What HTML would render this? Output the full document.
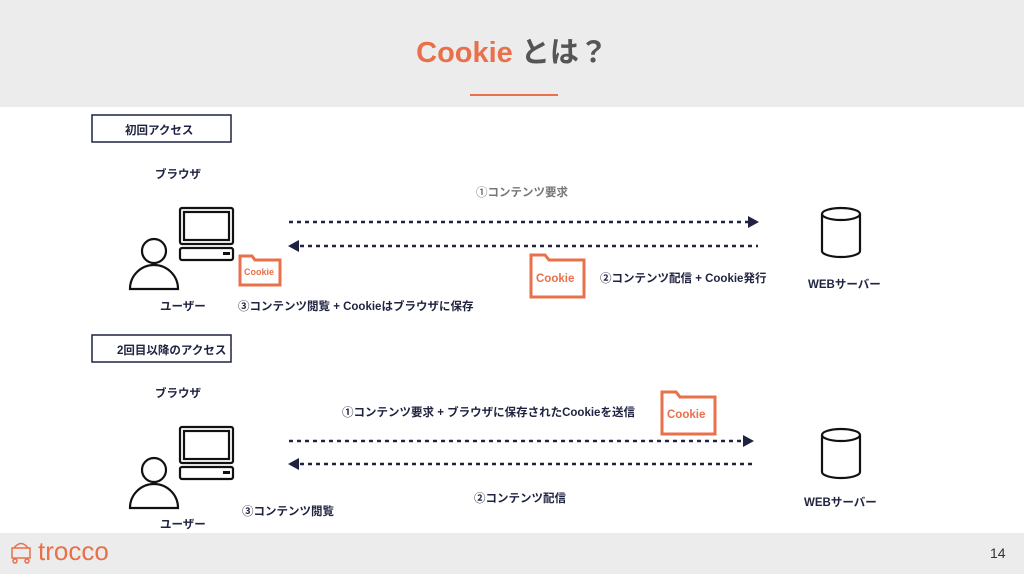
<!DOCTYPE html>
<html><head><meta charset="utf-8"><style>
body{margin:0;width:1024px;height:574px;position:relative;background:#fff;font-family:"Liberation Sans","Noto Sans CJK JP",sans-serif;overflow:hidden;color:#1f2340}
.a{position:absolute;white-space:nowrap;font-weight:bold;font-size:11.5px}
</style></head><body>
<div style="position:absolute;left:0;top:0;width:1024px;height:107px;background:#ececec"></div>
<div class="a" style="left:0;width:1024px;text-align:center;top:29px;font-size:29px;color:#555"><span style="color:#e8704a">Cookie</span> とは？</div>
<div style="position:absolute;left:470px;top:94px;width:88px;height:2px;background:#e8704a"></div>
<div style="position:absolute;left:0;top:533px;width:1024px;height:41px;background:#ececec"></div>
<div class="a" style="left:38px;top:536px;font-size:26px;font-weight:normal;color:#e8704a">trocco</div>
<div class="a" style="left:990px;top:545px;font-size:14px;font-weight:normal;color:#333">14</div>

<svg style="position:absolute;left:0;top:0" width="1024" height="574">
<g fill="none" stroke="#1f2340" stroke-width="1.5">
<rect x="92" y="115" width="139" height="27"/>
<rect x="92" y="335" width="139" height="27"/>
</g>
<g fill="none" stroke="#e8704a" stroke-width="1.5"><rect x="12" y="548" width="18" height="10"/><path d="M14 548 q7-9 14 0"/><circle cx="15" cy="561" r="2"/><circle cx="27" cy="561" r="2"/></g>
<g fill="none" stroke="#111" stroke-width="2.2">
<rect x="180" y="208" width="53" height="36" rx="2"/><rect x="184" y="212" width="45" height="28"/><rect x="180" y="248" width="53" height="12" rx="2"/>
<rect x="223" y="252" width="7" height="3" fill="#111" stroke="none"/>
<circle cx="154" cy="251" r="12"/><path d="M130 289 a24 24 0 0 1 48 0 z"/>
<g transform="translate(0,219)"><rect x="180" y="208" width="53" height="36" rx="2"/><rect x="184" y="212" width="45" height="28"/><rect x="180" y="248" width="53" height="12" rx="2"/><rect x="223" y="252" width="7" height="3" fill="#111" stroke="none"/><circle cx="154" cy="251" r="12"/><path d="M130 289 a24 24 0 0 1 48 0 z"/></g>
<path d="M822 214 v37 a19 6 0 0 0 38 0 v-37"/><ellipse cx="841" cy="214" rx="19" ry="6"/>
<g transform="translate(0,221)"><path d="M822 214 v37 a19 6 0 0 0 38 0 v-37"/><ellipse cx="841" cy="214" rx="19" ry="6"/></g>
</g>
<g stroke="#1f2340" stroke-width="2.5" stroke-dasharray="4,4">
<line x1="289" y1="222" x2="748" y2="222"/><line x1="300" y1="246" x2="758" y2="246"/>
<line x1="289" y1="441" x2="743" y2="441"/><line x1="300" y1="464" x2="752" y2="464"/>
</g>
<g fill="#1f2340"><path d="M748 216 l11 6 -11 6z"/><path d="M299 240 l-11 6 11 6z"/><path d="M743 435 l11 6 -11 6z"/><path d="M299 458 l-11 6 11 6z"/></g>
<g fill="none" stroke="#e8704a" stroke-width="3">
<path d="M240 256 h12 l3 4 h25 v25 h-40z"/>
<path d="M531 255 h14 l4 5 h35 v37 h-53z"/>
<path d="M662 392 h14 l4 5 h35 v37 h-53z"/>
</g>
<g fill="#e8704a" font-weight="bold" font-family="Liberation Sans,sans-serif">
<text x="244" y="275" font-size="9">Cookie</text>
<text x="536" y="282" font-size="11.5">Cookie</text>
<text x="667" y="418" font-size="11.5">Cookie</text>
</g>
</svg>
<div class="a" style="left:125px;top:122px">初回アクセス</div>
<div class="a" style="left:117px;top:342px">2回目以降のアクセス</div>
<div class="a" style="left:155px;top:166px">ブラウザ</div>
<div class="a" style="left:155px;top:385px">ブラウザ</div>
<div class="a" style="left:160px;top:298px">ユーザー</div>
<div class="a" style="left:160px;top:516px">ユーザー</div>
<div class="a" style="left:476px;top:184px;color:#777">①コンテンツ要求</div>
<div class="a" style="left:600px;top:270px">②コンテンツ配信 + Cookie発行</div>
<div class="a" style="left:238px;top:298px">③コンテンツ閲覧 + Cookieはブラウザに保存</div>
<div class="a" style="left:808px;top:276px">WEBサーバー</div>
<div class="a" style="left:342px;top:404px">①コンテンツ要求 + ブラウザに保存されたCookieを送信</div>
<div class="a" style="left:474px;top:490px">②コンテンツ配信</div>
<div class="a" style="left:242px;top:503px">③コンテンツ閲覧</div>
<div class="a" style="left:804px;top:494px">WEBサーバー</div>
</body></html>
